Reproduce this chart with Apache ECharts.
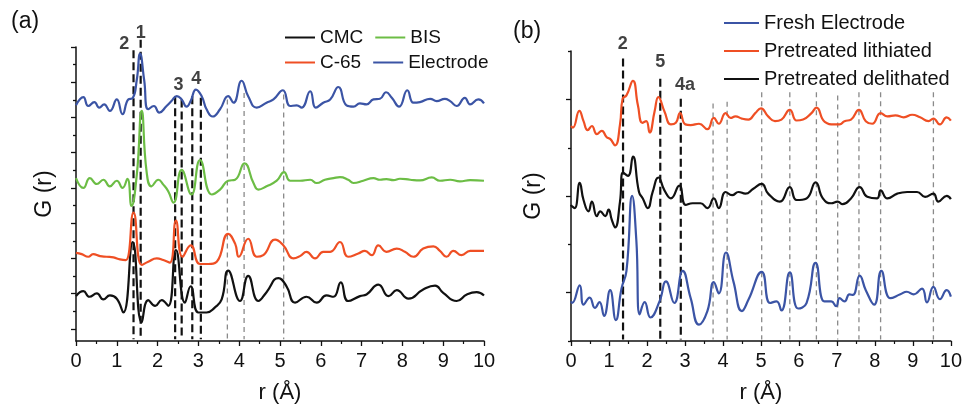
<!DOCTYPE html>
<html><head><meta charset="utf-8">
<script src="https://cdn.jsdelivr.net/npm/echarts@6/dist/echarts.min.js"></script>
<style>html,body{margin:0;padding:0;background:#fff}#c{width:965px;height:409px}</style>
</head><body><div id="c"></div>
<script>
// ---------- Panel (a): r (Å), G(r) in arbitrary offset units ----------
const electrodeA = [[0,719],[0.18,744],[0.30,717],[0.45,729],[0.57,712],[0.69,722],[0.83,702],[1.00,737],[1.14,692],[1.28,737],[1.39,741],[1.49,797],[1.57,877],[1.67,797],[1.77,707],[1.91,717],[2.04,697],[2.22,717],[2.34,732],[2.47,747],[2.59,737],[2.71,715],[2.81,732],[2.94,767],[3.08,747],[3.20,707],[3.35,685],[3.53,707],[3.73,747],[3.86,727],[4.06,794],[4.22,747],[4.43,712],[4.67,727],[4.84,737],[5.07,765],[5.25,717],[5.41,719],[5.53,712],[5.74,762],[5.88,712],[6.06,727],[6.23,737],[6.43,775],[6.63,719],[6.80,715],[6.96,725],[7.12,722],[7.29,737],[7.45,739],[7.60,759],[7.74,742],[7.92,715],[8.12,765],[8.27,727],[8.43,729],[8.68,739],[8.84,732],[9.04,739],[9.17,732],[9.33,717],[9.53,742],[9.66,722],[9.86,737],[10.0,725]];
const bisA = [[0,497],[0.18,467],[0.34,497],[0.51,479],[0.67,492],[0.83,472],[1.00,489],[1.14,467],[1.26,495],[1.36,412],[1.49,507],[1.61,702],[1.73,517],[1.85,472],[2.02,492],[2.14,477],[2.26,457],[2.39,422],[2.59,522],[2.83,447],[3.04,552],[3.33,447],[3.53,462],[3.73,489],[3.90,492],[4.13,542],[4.35,482],[4.47,462],[4.67,472],[4.92,489],[5.10,515],[5.25,489],[5.49,489],[5.74,492],[5.90,482],[6.10,492],[6.31,497],[6.47,500],[6.67,492],[6.80,482],[7.04,489],[7.29,497],[7.45,492],[7.61,494],[7.78,491],[7.94,495],[8.19,492],[8.43,490],[8.72,499],[8.92,489],[9.17,492],[9.41,487],[9.66,491],[10.0,489]];
const c65A = [[0,269],[0.14,265],[0.30,257],[0.42,265],[0.59,259],[0.75,257],[0.92,255],[1.08,249],[1.22,247],[1.41,392],[1.61,232],[1.77,242],[1.98,252],[2.14,247],[2.30,239],[2.45,367],[2.61,257],[2.81,292],[3.04,235],[3.24,235],[3.45,242],[3.73,327],[3.90,297],[3.99,257],[4.22,312],[4.43,257],[4.59,262],[4.88,309],[5.08,292],[5.33,252],[5.49,259],[5.65,272],[5.86,252],[6.06,272],[6.23,272],[6.47,302],[6.67,257],[6.92,267],[7.08,275],[7.25,262],[7.41,292],[7.61,272],[7.86,282],[8.06,272],[8.27,257],[8.51,282],[8.76,289],[8.92,275],[9.08,257],[9.25,275],[9.45,262],[9.66,275],[10.0,275]];
const cmcA = [[0,137],[0.18,152],[0.33,135],[0.51,145],[0.67,127],[0.83,139],[1.00,129],[1.16,87],[1.39,302],[1.61,57],[1.77,125],[1.94,107],[2.10,125],[2.26,107],[2.45,277],[2.67,117],[2.81,167],[3.00,87],[3.20,87],[3.40,102],[3.57,127],[3.73,215],[4.02,122],[4.22,199],[4.47,122],[4.67,149],[4.96,192],[5.16,167],[5.37,117],[5.65,135],[5.90,117],[6.14,139],[6.31,135],[6.49,179],[6.67,122],[6.96,137],[7.12,142],[7.41,172],[7.66,137],[7.86,155],[8.15,129],[8.51,157],[8.80,169],[9.00,147],[9.33,122],[9.58,142],[9.82,149],[10.0,139]];
// reference lines (r, top) panel (a)
const peakLinesA = [[1.41,887],[1.585,919],[2.43,747],[2.59,737],[2.85,747],[3.06,742]];
const guideLinesA = [[3.71,737],[4.12,757],[5.09,752]];
const peakLabelsA = [[1.18,906,'2'],[1.59,940,'1'],[2.51,780,'3'],[2.95,798,'4']];

// ---------- Panel (b) ----------
const lithB = [[0,668],[0.05,663],[0.22,715],[0.33,683],[0.44,655],[0.55,668],[0.68,643],[0.81,653],[0.94,633],[1.03,628],[1.16,608],[1.29,673],[1.36,753],[1.46,763],[1.63,808],[1.76,733],[1.88,678],[1.98,683],[2.07,648],[2.20,713],[2.30,758],[2.46,713],[2.63,673],[2.76,678],[2.87,708],[3.01,673],[3.15,671],[3.37,675],[3.59,658],[3.76,693],[3.89,675],[4.07,708],[4.20,693],[4.33,698],[4.50,691],[4.67,688],[4.85,708],[5.00,723],[5.19,698],[5.37,683],[5.54,688],[5.76,718],[5.94,685],[6.11,688],[6.33,708],[6.46,725],[6.68,681],[6.94,673],[7.07,673],[7.20,683],[7.37,688],[7.58,718],[7.76,683],[7.93,675],[8.15,708],[8.33,698],[8.54,701],[8.76,695],[8.98,703],[9.19,695],[9.41,683],[9.54,691],[9.71,673],[9.89,695],[10.0,685]];
const delithB = [[0,423],[0.03,418],[0.10,413],[0.23,491],[0.33,438],[0.46,403],[0.55,433],[0.68,388],[0.77,403],[0.90,388],[0.99,408],[1.07,378],[1.16,353],[1.29,433],[1.37,523],[1.50,513],[1.63,573],[1.79,463],[1.89,443],[2.02,413],[2.15,463],[2.30,508],[2.46,468],[2.63,443],[2.85,483],[3.02,423],[3.20,428],[3.41,428],[3.59,413],[3.76,443],[3.89,413],[4.07,463],[4.24,453],[4.41,463],[4.59,458],[4.80,473],[5.02,488],[5.19,458],[5.50,433],[5.76,478],[5.94,438],[6.20,443],[6.44,493],[6.63,443],[6.85,428],[7.02,433],[7.15,425],[7.37,443],[7.60,478],[7.80,448],[8.06,443],[8.15,468],[8.33,443],[8.59,458],[8.85,463],[9.11,463],[9.32,448],[9.54,458],[9.67,433],[9.89,451],[10.0,441]];
const freshB = [[0,123],[0.03,118],[0.23,173],[0.33,113],[0.49,135],[0.63,103],[0.75,121],[0.87,78],[1.03,158],[1.18,65],[1.33,163],[1.46,218],[1.61,451],[1.72,313],[1.81,83],[1.94,121],[2.09,73],[2.33,123],[2.50,185],[2.72,118],[2.94,218],[3.15,133],[3.37,51],[3.59,93],[3.76,183],[3.89,148],[4.08,275],[4.28,183],[4.50,93],[4.67,128],[5.02,215],[5.24,118],[5.41,123],[5.54,95],[5.76,213],[5.98,101],[6.20,118],[6.44,243],[6.67,123],[6.85,123],[6.98,108],[7.07,133],[7.20,123],[7.33,145],[7.42,143],[7.60,203],[7.76,158],[7.98,113],[8.17,218],[8.41,133],[8.67,145],[8.84,153],[9.02,145],[9.24,163],[9.37,120],[9.54,168],[9.71,130],[9.89,158],[10.0,138]];
const namesB = ['Fresh Electrode','Pretreated lithiated','Pretreated delithated'];
const peakLinesB = [[1.37,878],[2.35,815],[2.89,753]];
const guideLinesB = [[3.74,738],[4.11,743],[5.02,773],[5.76,773],[6.46,773],[7.02,763],[7.58,773],[8.15,773],[9.54,773]];
const peakLabelsB = [[1.36,922,'2'],[2.35,866,'5'],[3.0,796,'4a']];

// ---------- styling ----------
const FONT = '"Liberation Sans", Arial, Helvetica, sans-serif';
const C = {black:'#111111', red:'#ef4f24', green:'#6cbd45', blue:'#3b54a5', grey:'#8a8a8a'};

function curve(name, data, color, xi, yi){
  return {type:'line', name, data, xAxisIndex:xi, yAxisIndex:yi, showSymbol:false, smooth:0.5,
    lineStyle:{color, width:2.2}, itemStyle:{color}, z:5, silent:true, clip:false};
}
function vline(d, xi, yi, color, width, dash){
  return {type:'line', data:[[d[0], d[1]],[d[0], 5]], xAxisIndex:xi, yAxisIndex:yi, showSymbol:false,
    lineStyle:{color, width, type:dash}, silent:true, z:2, clip:false};
}
function labels(arr, xi, yi){
  return {type:'scatter', data:arr.map(a=>[a[0],a[1],a[2]]), xAxisIndex:xi, yAxisIndex:yi, symbolSize:0, clip:false, silent:true,
    label:{show:true, position:'inside', formatter:p=>p.value[2], fontFamily:FONT, fontWeight:'bold', fontSize:18, color:'#111'}};
}
function xAx(gi){
  return {type:'value', gridIndex:gi, min:0, max:10, interval:1,
    axisLine:{lineStyle:{color:'#111', width:1.5}},
    axisTick:{length:5, lineStyle:{color:'#111', width:1.3}},
    minorTick:{show:true, splitNumber:2, length:3, lineStyle:{color:'#111', width:1.2}},
    splitLine:{show:false}, minorSplitLine:{show:false},
    axisLabel:{fontFamily:FONT, fontSize:20, color:'#111', margin:10, showMaxLabel:true, showMinLabel:true},
    name:'r (Å)', nameLocation:'middle', nameGap:41, nameTextStyle:{fontFamily:FONT, fontSize:22, color:'#111'}};
}
function yAx(gi, max, ticks, len, withLine, name, gap){
  return {type:'value', gridIndex:gi, min:0, max, position:'left', offset:0,
    axisLine:{show:withLine, onZero:false, lineStyle:{color:'#111', width:1.5}},
    axisTick:{show:true, customValues:ticks, length:len, lineStyle:{color:'#111', width:1.3}},
    axisLabel:{show:false, customValues:ticks},
    splitLine:{show:false},
    name: name||'', nameLocation:'middle', nameGap:gap||30, nameRotate:90,
    nameTextStyle:{fontFamily:FONT, fontSize:23, color:'#111'}};
}
const majA=[], minA=[];
for(let k=0;k<=8;k++) majA.push(37+107.5*k);
for(let k=0;k<8;k++) minA.push(90.75+107.5*k);
const majB=[150,450,750], minB=[0,300,600,900];

const series = [];
peakLinesA.forEach(d=>series.push(vline(d,0,0,'#111',2.2,[8,4])));
guideLinesA.forEach(d=>series.push(vline(d,0,0,C.grey,1.3,[5,4])));
series.push(curve('CMC', cmcA, C.black, 0, 0));
series.push(curve('C-65', c65A, C.red, 0, 0));
series.push(curve('BIS', bisA, C.green, 0, 0));
series.push(curve('Electrode', electrodeA, C.blue, 0, 0));
series.push(labels(peakLabelsA,0,0));
peakLinesB.forEach(d=>series.push(vline(d,1,2,'#111',2.2,[8,4])));
guideLinesB.forEach(d=>series.push(vline(d,1,2,C.grey,1.3,[5,4])));
series.push(curve('Fresh Electrode', freshB, C.blue, 1, 2));
series.push(curve('Pretreated lithiated', lithB, C.red, 1, 2));
series.push(curve('Pretreated delithated', delithB, C.black, 1, 2));
series.push(labels(peakLabelsB,1,2));

const legText = {fontFamily:FONT, fontSize:19, color:'#111', width:48};
const chart = echarts.init(document.getElementById('c'), null, {renderer:'canvas'});
chart.setOption({
  animation:false,
  backgroundColor:'#fff',
  grid:[{left:76, top:47, width:408, height:299},{left:571, top:51, width:383.6, height:300}],
  xAxis:[xAx(0), xAx(1)],
  yAxis:[yAx(0,897,majA,5,true,'G (r)',20), yAx(0,897,minA,3,false), yAx(1,901,majB,5,true,'G (r)',26), yAx(1,901,minB,3,false)],
  legend:[
    {data:['CMC','BIS'], left:280, top:23, itemWidth:30, itemHeight:2, icon:'rect', itemGap:12, textStyle:legText, selectedMode:false},
    {data:['C-65','Electrode'], left:280, top:48, itemWidth:30, itemHeight:2, icon:'rect', itemGap:12, textStyle:legText, selectedMode:false},
    {data:namesB, orient:'vertical', left:719, top:8, itemWidth:35, itemHeight:2, icon:'rect', itemGap:8,
      textStyle:{fontFamily:FONT, fontSize:20, color:'#111', lineHeight:19}, selectedMode:false}
  ],
  graphic:[
    {type:'text', left:11, top:10, style:{text:'(a)', font:'23px '+FONT, fill:'#111'}},
    {type:'text', left:513, top:20, style:{text:'(b)', font:'23px '+FONT, fill:'#111'}}
  ],
  series
});
</script></body></html>
